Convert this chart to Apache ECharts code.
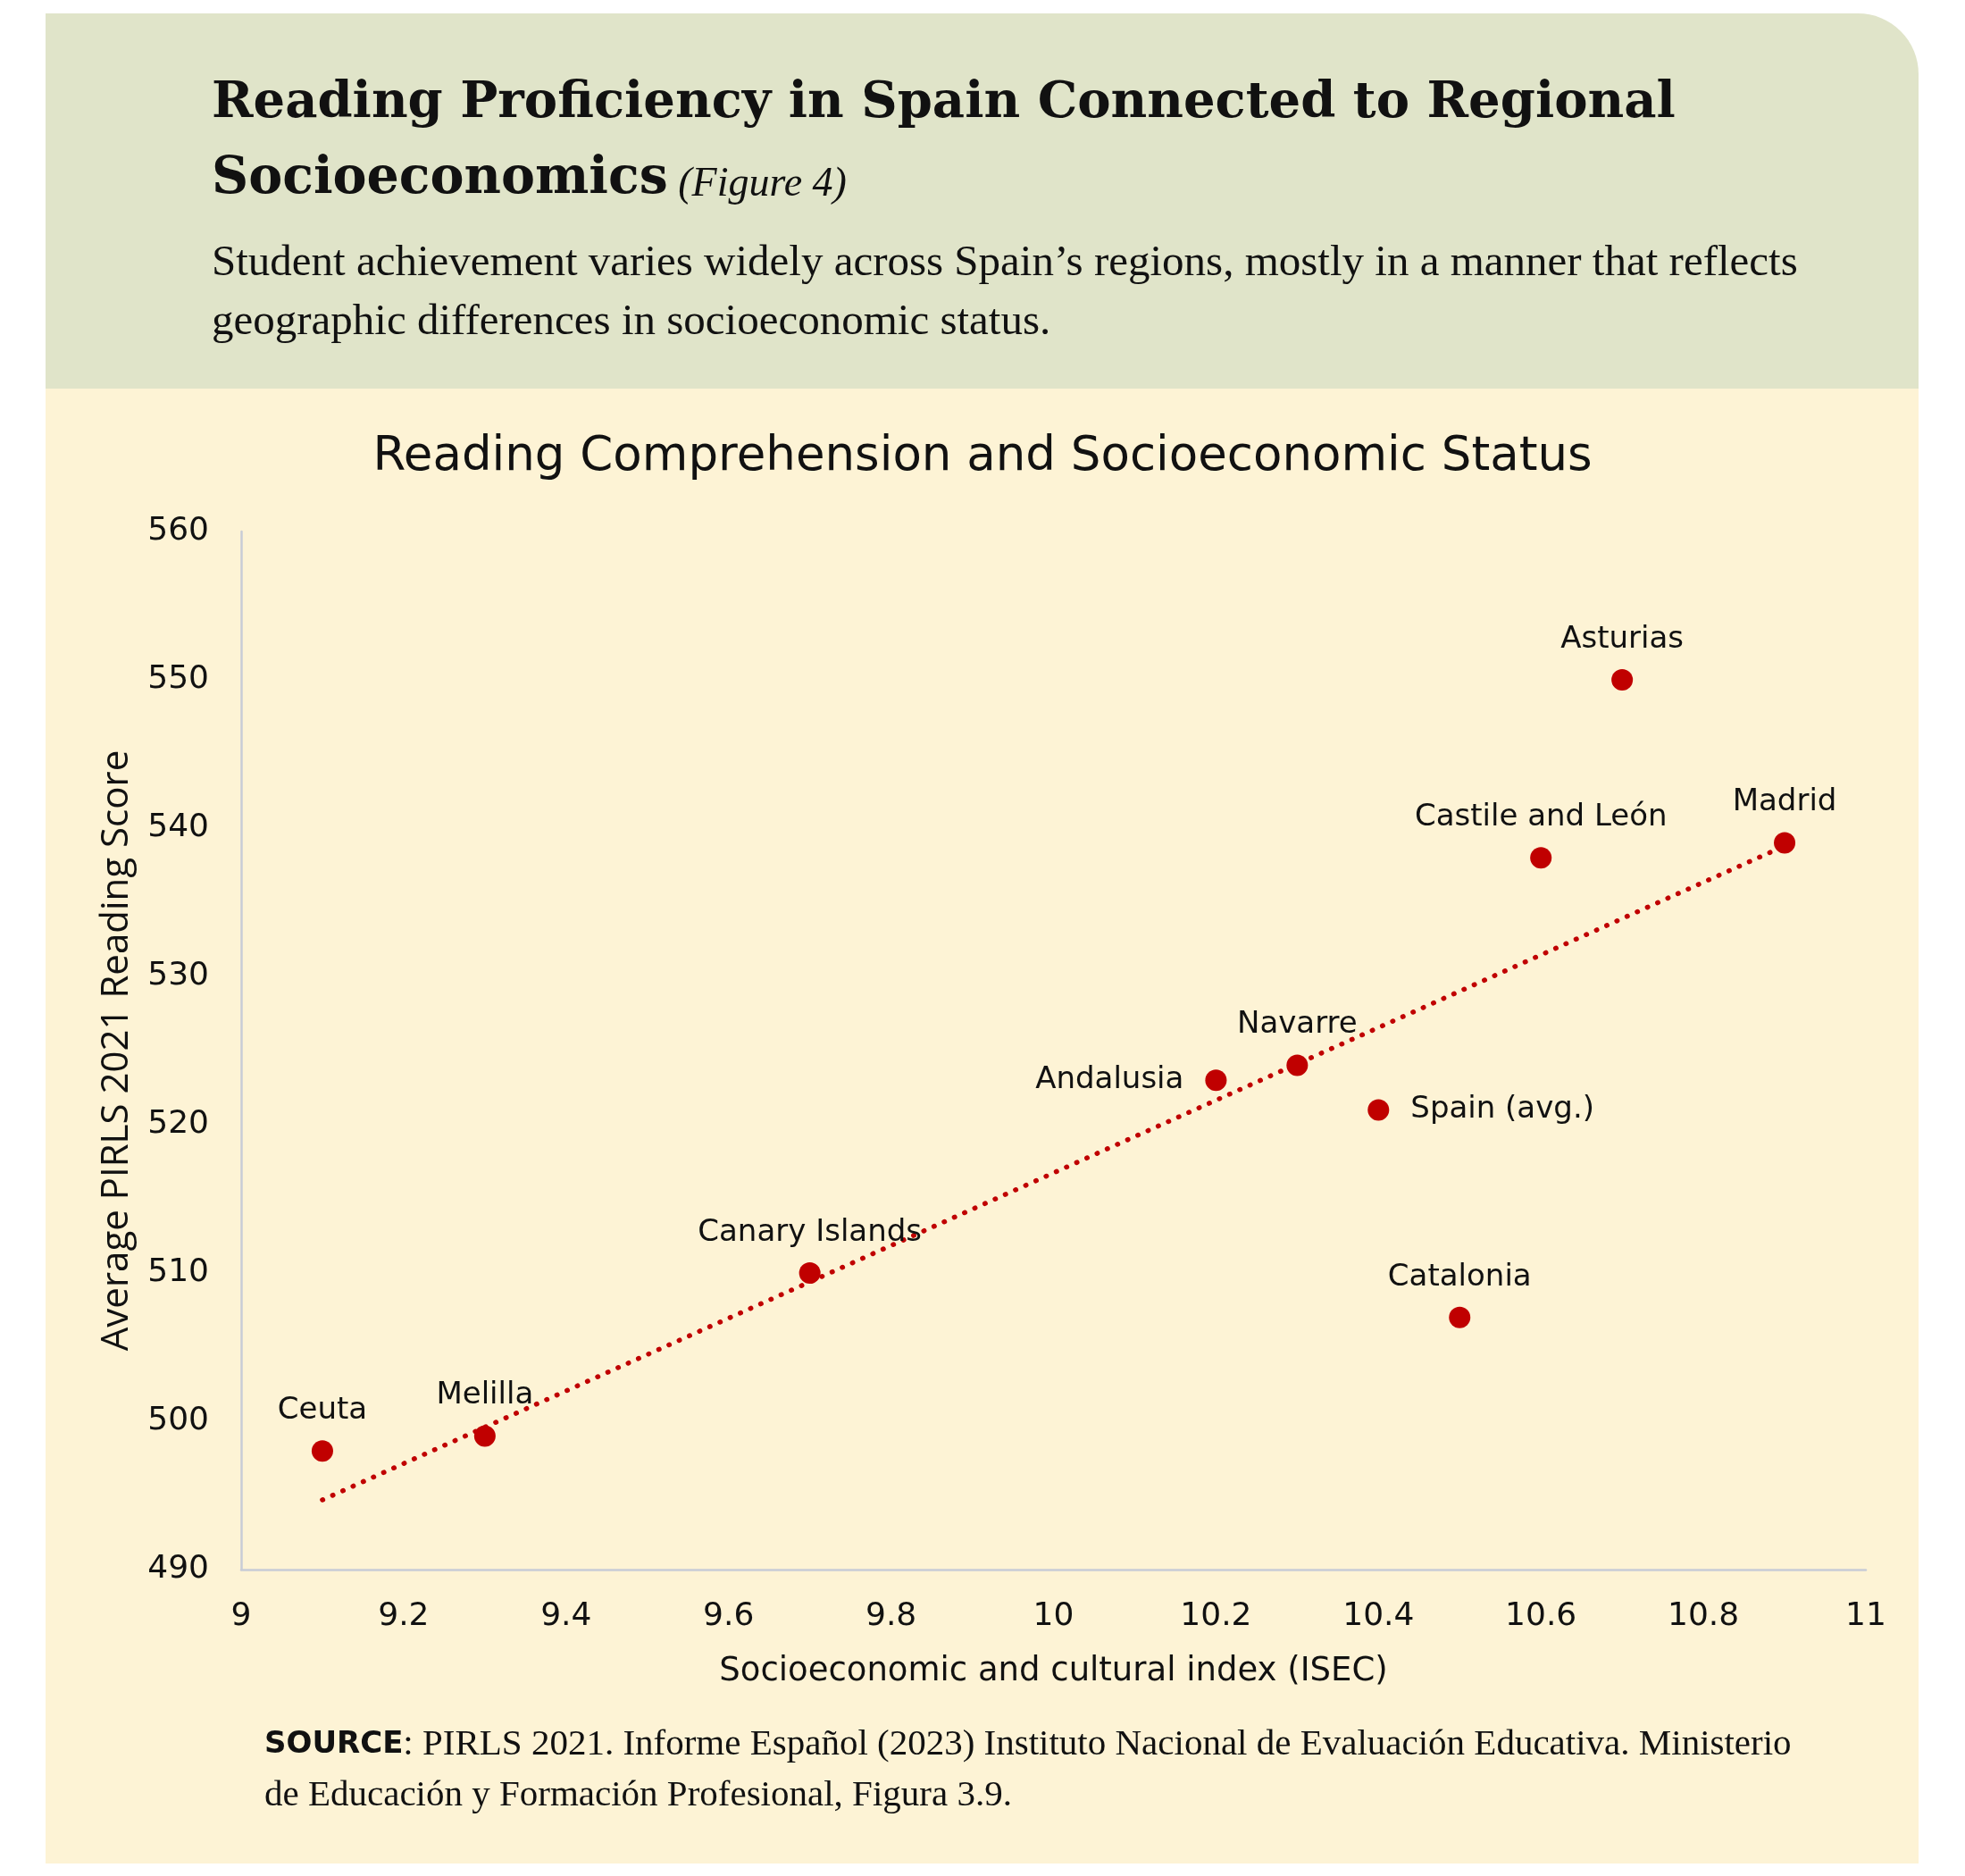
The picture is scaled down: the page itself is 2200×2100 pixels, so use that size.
<!DOCTYPE html>
<html>
<head>
<meta charset="utf-8">
<script src="https://cdn.jsdelivr.net/npm/echarts@6/dist/echarts.min.js"></script>
<style>
  html, body { margin: 0; padding: 0; background: #ffffff; }
  #chart { width: 2200px; height: 2100px; }
</style>
</head>
<body>
<div id="chart"></div>
<script>
// data
const regions = ['Ceuta', 'Melilla', 'Canary Islands', 'Andalusia', 'Navarre', 'Spain (avg.)', 'Catalonia', 'Castile and León', 'Asturias', 'Madrid'];
const isec = [9.1, 9.3, 9.7, 10.2, 10.3, 10.4, 10.5, 10.6, 10.7, 10.9];
const reading = [498, 499, 510, 523, 524, 521, 507, 538, 550, 539];
const trendX = [9.1, 10.9];
const trendY = [494.7, 538.8];

const labelSide = { 'Andalusia': 'left', 'Spain (avg.)': 'right' };

const red = '#c00000';
const sans = '"DejaVu Sans", sans-serif';

const points = regions.map((name, i) => {
  const side = labelSide[name] || 'top';
  return {
    name: name,
    value: [isec[i], reading[i]],
    label: { position: side, distance: side === 'top' ? 16 : 24 }
  };
});
const trend = trendX.map((x, i) => [x, trendY[i]]);

const chart = echarts.init(document.getElementById('chart'));
chart.setOption({
  animation: false,
  backgroundColor: '#ffffff',
  graphic: [
    { type: 'rect', z: -10, shape: { x: 51, y: 15, width: 2097, height: 430, r: [0, 68, 0, 0] }, style: { fill: '#e0e4c9' } },
    { type: 'rect', z: -10, shape: { x: 51, y: 435, width: 2097, height: 1651 }, style: { fill: '#fdf3d5' } },
    { type: 'text', x: 237, y: 116, style: { text: 'Reading Proficiency in Spain Connected to Regional', font: 'bold 56px "DejaVu Serif"', fill: '#111', verticalAlign: 'middle' } },
    { type: 'text', x: 237, y: 195, style: {
      text: '{b|Socioeconomics}{i| (Figure 4)}',
      verticalAlign: 'middle',
      rich: {
        b: { font: 'bold 57px "DejaVu Serif"', fill: '#111', lineHeight: 70, verticalAlign: 'bottom' },
        i: { font: 'italic 46px "Liberation Serif"', fill: '#111', lineHeight: 66, verticalAlign: 'bottom' }
      }
    } },
    { type: 'text', x: 237, y: 328, style: {
      text: 'Student achievement varies widely across Spain’s regions, mostly in a manner that reflects\ngeographic differences in socioeconomic status.',
      font: '49px "Liberation Serif"', fill: '#111', lineHeight: 66, verticalAlign: 'middle'
    } },
    { type: 'text', x: 1100, y: 512, style: { text: 'Reading Comprehension and Socioeconomic Status', font: '53px ' + sans, fill: '#111', align: 'center', verticalAlign: 'middle' } },
    { type: 'text', x: 296, y: 1982, style: {
      text: '{b|SOURCE}{s|: PIRLS 2021. Informe Español (2023) Instituto Nacional de Evaluación Educativa. Ministerio}\n{s|de Educación y Formación Profesional, Figura 3.9.}',
      verticalAlign: 'middle',
      rich: {
        b: { font: '600 34px ' + sans, fill: '#111', lineHeight: 57 },
        s: { font: '41px "Liberation Serif"', fill: '#111', lineHeight: 57 }
      }
    } }
  ],
  grid: { left: 270, right: 111, top: 595, bottom: 343 },
  xAxis: {
    type: 'value', min: 9, max: 11, interval: 0.2,
    name: 'Socioeconomic and cultural index (ISEC)', nameLocation: 'middle', nameGap: 96,
    nameTextStyle: { fontFamily: sans, fontSize: 37, color: '#111' },
    axisLine: { show: true, lineStyle: { color: '#c8ccd6', width: 2.5 } },
    axisTick: { show: false },
    splitLine: { show: false },
    axisLabel: { fontFamily: sans, fontSize: 36, color: '#111', margin: 35 }
  },
  yAxis: {
    type: 'value', min: 490, max: 560, interval: 10,
    name: 'Average PIRLS 2021 Reading Score', nameLocation: 'middle', nameGap: 118,
    nameTextStyle: { fontFamily: '"Open Sans", sans-serif', fontSize: 42, color: '#111' },
    axisLine: { show: true, lineStyle: { color: '#c8ccd6', width: 2.5 } },
    axisTick: { show: false },
    splitLine: { show: false },
    axisLabel: { fontFamily: sans, fontSize: 36, color: '#111', margin: 36 }
  },
  series: [
    {
      type: 'line',
      data: trend,
      symbol: 'none',
      silent: true,
      lineStyle: { color: red, width: 5.5, type: [0.5, 12], cap: 'round' },
      z: 2
    },
    {
      type: 'scatter',
      data: points,
      symbolSize: 24,
      itemStyle: { color: red, opacity: 1 },
      label: {
        show: true,
        formatter: (p) => p.name,
        fontFamily: sans, fontSize: 34, color: '#111'
      },
      z: 3
    }
  ]
});
</script>
</body>
</html>
